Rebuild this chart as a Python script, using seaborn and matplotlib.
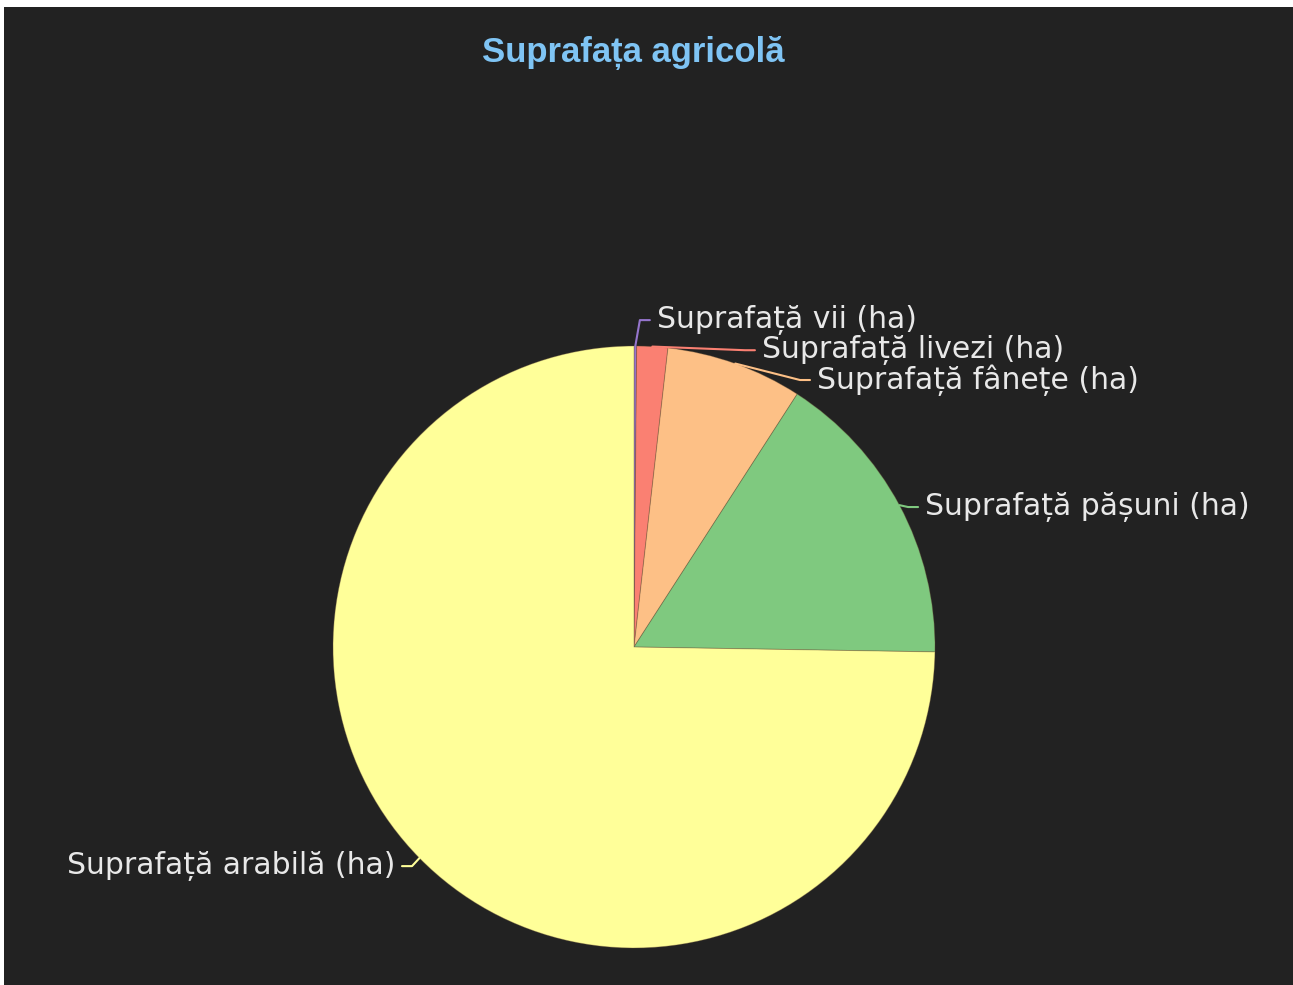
import matplotlib
matplotlib.use("Agg")
import matplotlib.pyplot as plt
import seaborn as sns
import numpy as np
from matplotlib.patches import Rectangle

# Agricultural land by use (hectares)
categories = [
    "Suprafață vii (ha)",
    "Suprafață livezi (ha)",
    "Suprafață fânețe (ha)",
    "Suprafață pășuni (ha)",
    "Suprafață arabilă (ha)",
]
hectares = [7, 83, 366, 807, 3737]
slice_colors = ["#9575cd", "#fa8072", "#fdc086", "#7fc97f", "#ffff99"]
title_text = "Suprafața agricolă"

# Label anchors in pie-radius units (x, y, horizontal alignment)
label_layout = [
    (0.076, 1.086, "left"),
    (0.425, 0.986, "left"),
    (0.608, 0.887, "left"),
    (0.967, 0.465, "left"),
    (-0.794, -0.728, "right"),
]

sns.set_theme(style="dark")
plt.rcParams["font.family"] = ["DejaVu Sans"]

W, H = 1293, 985
fig = plt.figure(figsize=(W / 100, H / 100), dpi=100, facecolor="white")
fig.add_artist(Rectangle((4 / W, 0), 1 - 4 / W, 1 - 7 / H,
                         transform=fig.transFigure, facecolor="#222222",
                         edgecolor="none", zorder=0))

cx, cy, r = 634, 647, 301
ax = fig.add_axes([(cx - r) / W, (H - cy - r) / H, 2 * r / W, 2 * r / H])
ax.set_facecolor("none")

wedges, _ = ax.pie(hectares, colors=slice_colors, startangle=90,
                   counterclock=False, radius=1.0,
                   wedgeprops=dict(edgecolor=(0.4, 0.3, 0.2, 0.35), linewidth=0.7))
ax.set_xlim(-1, 1)
ax.set_ylim(-1, 1)
ax.set_aspect("auto")
ax.axis("off")

px = 1.0 / r  # one pixel in radius units
total = float(sum(hectares))
start = 0.0
for val, name, col, (lx, ly, ha) in zip(hectares, categories, slice_colors, label_layout):
    frac = val / total
    mid = np.deg2rad((start + frac / 2) * 360.0)
    start += frac
    p0 = (np.sin(mid), np.cos(mid))
    sgn = 1 if ha == "left" else -1
    end = (lx - sgn * 7 * px, ly)
    elbow = (end[0] - sgn * 10 * px, ly)
    ax.plot([p0[0], elbow[0], end[0]], [p0[1], elbow[1], end[1]],
            color=col, lw=1.5, clip_on=False, solid_capstyle="round")
    ax.text(lx, ly, name, ha=ha, va="center", fontsize=21.5,
            color="#e8e8e8", clip_on=False)

fig.text(633.5 / W, 1 - 53 / H, title_text, ha="center", va="center",
         fontsize=25, fontweight="bold", color="#7fc4f4",
         family=["Liberation Sans", "DejaVu Sans"])

fig.savefig("out.png", dpi=100, facecolor=fig.get_facecolor())
